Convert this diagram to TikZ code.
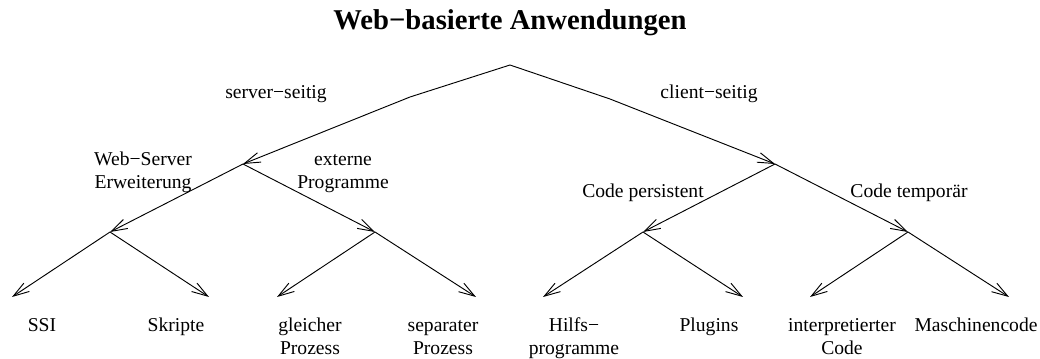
\documentclass[tikz,border=0pt]{standalone}
\usepackage{fontspec}
\setmainfont{Liberation Serif}
\usetikzlibrary{arrows.meta}
\begin{document}
\begin{tikzpicture}[x=0.75pt,y=-0.75pt,
  edge/.style={line width=0.7pt,line join=miter,-{Straight Barb[length=12pt,width=7.5pt,line width=0.7pt]}},
  lbl/.style={font=\fontsize{14.7}{17.3}\selectfont,inner sep=0pt,anchor=base,align=center},
  heading/.style={font=\fontsize{21.5}{24}\selectfont\bfseries,inner sep=0pt,anchor=base}]
\useasboundingbox (0,0) rectangle (1040,359);

% title
\node[heading] (title) at (510,30) {Web−basierte Anwendungen};

% branching points
\coordinate (root) at (510,65);
\coordinate (kl) at (410,97);
\coordinate (kr) at (610,99);
\coordinate (srv) at (243,164);
\coordinate (cli) at (775,164);
\coordinate (ws) at (110,232);
\coordinate (ext) at (375,232);
\coordinate (pers) at (643,232);
\coordinate (temp) at (908,232);

% leaf tips
\coordinate (ssi) at (12,297);
\coordinate (skr) at (209,297);
\coordinate (gle) at (277,297);
\coordinate (sep) at (476,297);
\coordinate (hlf) at (543,297);
\coordinate (plg) at (743,297);
\coordinate (ipr) at (810,297);
\coordinate (mcd) at (1009,297);

% edges
\draw[edge] (root) -- (kl) -- (srv);
\draw[edge] (root) -- (kr) -- (cli);
\draw[edge] (srv) -- (ws);
\draw[edge] (srv) -- (ext);
\draw[edge] (cli) -- (pers);
\draw[edge] (cli) -- (temp);
\draw[edge] (ws) -- (ssi);
\draw[edge] (ws) -- (skr);
\draw[edge] (ext) -- (gle);
\draw[edge] (ext) -- (sep);
\draw[edge] (pers) -- (hlf);
\draw[edge] (pers) -- (plg);
\draw[edge] (temp) -- (ipr);
\draw[edge] (temp) -- (mcd);

% edge labels (two-line labels are placed by the baseline of their last line)
\node[lbl] (lsrv) at (276,99) {server−seitig};
\node[lbl] (lcli) at (709,99) {client−seitig};
\node[lbl] (lws) at (143,189) {Web−Server\\Erweiterung};
\node[lbl] (lext) at (343,189) {externe\\Programme};
\node[lbl] (lpers) at (643,198) {Code persistent};
\node[lbl] (ltemp) at (909,198) {Code temporär};

% leaves
\node[lbl] (tssi) at (42,332) {SSI};
\node[lbl] (tskr) at (176,332) {Skripte};
\node[lbl] (tgle) at (310,355) {gleicher\\Prozess};
\node[lbl] (tsep) at (443,355) {separater\\Prozess};
\node[lbl] (thlf) at (574,355) {Hilfs−\\programme};
\node[lbl] (tplg) at (709,332) {Plugins};
\node[lbl] (tipr) at (842,355) {interpretierter\\Code};
\node[lbl] (tmcd) at (976,332) {Maschinencode};
\end{tikzpicture}
\end{document}
